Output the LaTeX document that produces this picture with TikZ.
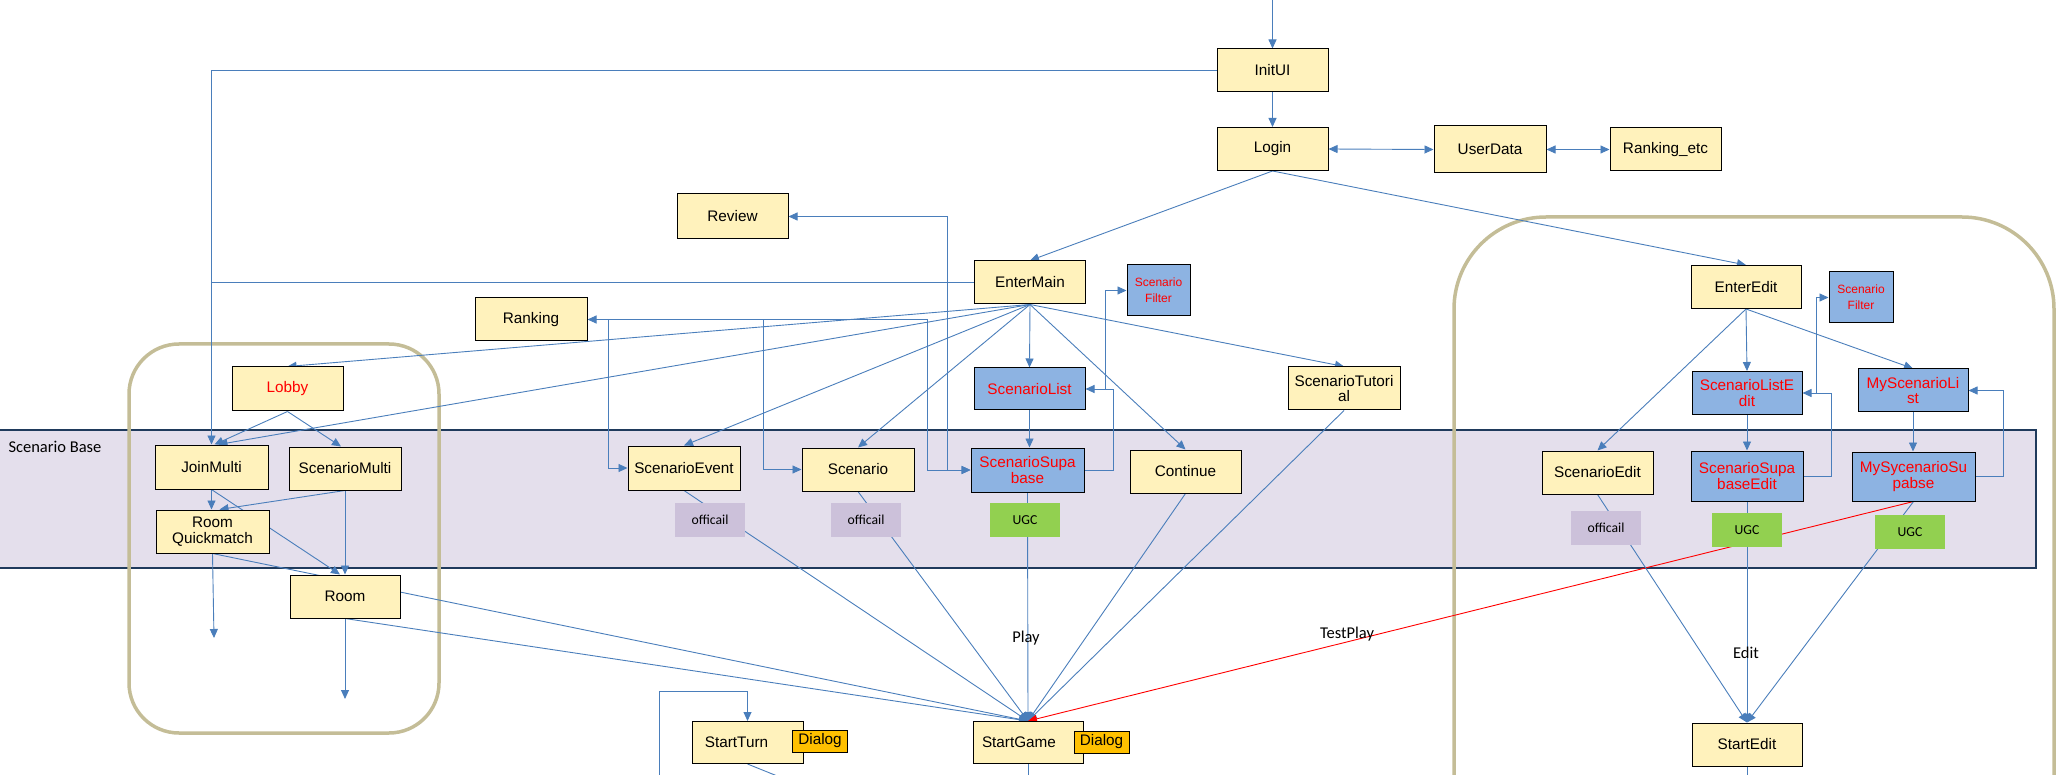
\documentclass[tikz,border=0pt]{standalone}
\usepackage{fontspec}
\setmainfont{Liberation Sans}
\newfontfamily\calib{Carlito}
\usetikzlibrary{arrows.meta}
\definecolor{yfill}{HTML}{FFF2BC}
\definecolor{bfill}{HTML}{8DB3E2}
\definecolor{ofill}{HTML}{CCC1DA}
\definecolor{gfill}{HTML}{92D050}
\definecolor{dfill}{HTML}{FFC000}
\definecolor{bandfill}{HTML}{E4DFEC}
\definecolor{bandline}{HTML}{1F3A5C}
\definecolor{tan}{HTML}{C4BD97}
\definecolor{lblue}{HTML}{4A7EBB}
\pgfdeclarelayer{bg}
\pgfdeclarelayer{lines}
\pgfsetlayers{bg,lines,main}
\tikzset{
 ybox/.style={draw=black, line width=1pt, fill=yfill, minimum width=111pt, minimum height=43pt, inner sep=0pt, align=center, font=\fontsize{15.3}{15.5}\selectfont},
 bbox/.style={ybox, fill=bfill, text=red},
 fbox/.style={ybox, fill=bfill, text=red, minimum width=63pt, minimum height=51pt, font=\fontsize{12}{16}\selectfont},
 tagbox/.style={minimum width=70pt, minimum height=34pt, inner sep=0pt, font=\calib\fontsize{13.7}{14}\selectfont},
 offi/.style={tagbox, fill=ofill},
 ugc/.style={tagbox, fill=gfill},
 dlg/.style={draw=black, line width=1pt, fill=dfill, minimum width=55pt, minimum height=22pt, inner sep=0pt, font=\fontsize{15.3}{15}\selectfont},
 ln/.style={draw=lblue, line width=0.9pt},
 arr/.style={ln, -{Triangle[length=9pt,width=8pt]}},
 arrb/.style={ln, {Triangle[length=9pt,width=8pt]}-{Triangle[length=9pt,width=8pt]}},
 arrR/.style={draw=red, line width=0.9pt, -{Triangle[length=9pt,width=8pt]}},
 lbl/.style={font=\calib\fontsize{16.5}{17}\selectfont},
 tanbox/.style={draw=tan, line width=3.5pt}
}
\begin{document}
\begin{tikzpicture}[x=1pt,y=-1pt]
\useasboundingbox (0,0) rectangle (2059,775);
% nodes
\node[ybox] (IU) at (1272.5,70.5) {InitUI};
\node[ybox] (LG) at (1272.5,149) {Login};
\node[ybox, minimum height=47pt, minimum width=112pt] (UD) at (1490,149.5) {UserData};
\node[ybox] (RE) at (1665.5,149.5) {Ranking\_etc};
\node[ybox, minimum height=45pt] (RV) at (732.5,216.5) {Review};
\node[ybox] (EM) at (1030,282.5) {EnterMain};
\node[fbox] (SF) at (1158.5,290.5) {Scenario\\Filter};
\node[ybox, minimum width=112pt] (RK) at (531,319.5) {Ranking};
\node[ybox, minimum height=44pt, text=red] (LB) at (287.5,389) {Lobby};
\node[bbox, minimum height=42pt] (SL) at (1029.5,389) {ScenarioList};
\node[ybox, minimum width=112pt] (ST) at (1344,388.5) {ScenarioTutori\\al};
\node[ybox, minimum width=110pt] (EE) at (1746,287) {EnterEdit};
\node[fbox, minimum width=64pt] (SF2) at (1861,297.5) {Scenario\\Filter};
\node[bbox, minimum width=110pt] (SLE) at (1747,393) {ScenarioListE\\dit};
\node[bbox, minimum width=110pt] (MSL) at (1913,390.5) {MyScenarioLi\\st};
\node[ybox, minimum width=113pt, minimum height=44pt] (JM) at (211.5,467) {JoinMulti};
\node[ybox, minimum width=112pt] (SM) at (345,468.5) {ScenarioMulti};
\node[ybox, minimum width=113pt] (RQ) at (212.5,531.5) {Room\\Quickmatch};
\node[ybox, minimum width=110pt] (RM) at (345,596.5) {Room};
\node[ybox, minimum width=112pt, minimum height=44pt] (SE) at (684,468) {ScenarioEvent};
\node[ybox, minimum width=112pt] (SC) at (858,469.5) {Scenario};
\node[bbox, minimum width=113pt, minimum height=44pt] (SSB) at (1027.5,470) {ScenarioSupa\\base};
\node[ybox] (CT) at (1185.5,471.5) {Continue};
\node[ybox] (SEd) at (1597.5,472.5) {ScenarioEdit};
\node[bbox, minimum width=112pt, minimum height=50pt] (SSE) at (1747,476) {ScenarioSupa\\baseEdit};
\node[bbox, minimum width=123pt, minimum height=49pt] (MSSB) at (1913.5,476.5) {MySycenarioSu\\pabse};
\node[offi] (OF1) at (710,520) {officail};
\node[offi] (OF2) at (866,520) {officail};
\node[ugc] (UG1) at (1025,520) {UGC};
\node[offi] (OF3) at (1606,528) {officail};
\node[ugc] (UG2) at (1747,530) {UGC};
\node[ugc] (UG3) at (1910,532) {UGC};
\node[ybox, minimum height=42pt] (STn) at (747.5,742.5) {StartTurn\hspace*{22pt}};
\node[dlg] (DT1) at (820,741) {Dialog};
\node[ybox, minimum width=110pt, minimum height=42pt] (SG) at (1028,742.5) {StartGame\hspace*{18pt}};
\node[dlg] (DT2) at (1101.5,742) {Dialog};
\node[ybox, minimum width=110pt] (StE) at (1747,744.5) {StartEdit};
\node[lbl] (play) at (1026,638) {Play};
\node[lbl] (tplay) at (1347,634) {TestPlay};
\node[lbl] (edit) at (1746,653) {Edit};
\node[lbl, anchor=west] (sbase) at (5,447) {Scenario Base};
% free ends
\coordinate (top) at (1272.5,0);
\coordinate (r1) at (608,319.5);
\coordinate (r2) at (763,319.5);
\coordinate (d1) at (214,638);
\coordinate (d2) at (345,699);
\coordinate (lp) at (659,790);
\coordinate (lt) at (659,691);
\coordinate (sb) at (812,790);
\coordinate (sgb) at (1028,790);
\coordinate (steb) at (1747,790);
\begin{pgfonlayer}{bg}
\fill[bandfill] (-10,430) rectangle (2036,568);
\draw[bandline, line width=2.6pt] (-10,430) rectangle (2036,568);
\draw[tanbox, rounded corners=50pt] (129,344) rectangle (439,733);
\draw[tanbox, rounded corners=92pt] (1454,217) rectangle (2054,900);
\end{pgfonlayer}
\begin{pgfonlayer}{lines}
\draw[arr] (top) -- (IU.north);
\draw[arr] (IU.south) -- (LG.north);
\draw[arr] (IU.west) -| (JM.north);
\draw[ln] (EM.west) -- (EM.west -| JM.north);
\draw[arrb] (LG.east) -- (UD.west);
\draw[arrb] (UD.east) -- (RE.west);
\draw[arr] (LG.south) -- (EM.north);
\draw[arr] (LG.south) -- (EE.north);
\draw[arr] (EM.south) -- (LB.north);
\draw[arr] (EM.south) -- ([xshift=7pt]JM.north);
\draw[arr] (EM.south) -- (SE.north);
\draw[arr] (EM.south) -- (SC.north);
\draw[arr] (EM.south) -- (SL.north);
\draw[arr] (EM.south) -- (CT.north);
\draw[arr] (EM.south) -- (ST.north);
\draw[arrb] (RK.east) -| ([xshift=-43pt]SSB.west) -- (SSB.west);
\draw[arrb] (RV.east) -| ([xshift=-23pt]SSB.west) -- (SSB.west);
\draw[arr] (r1) |- (SE.west);
\draw[arr] (r2) |- (SC.west);
\draw[arr] (SL.south) -- (SL.south |- SSB.north);
\draw[arr] (SSB.east) -- ++(28.5,0) |- (SL.east);
\draw[arr] ([xshift=20pt]SL.east) |- (SF.west);
\draw[arr] (EE.south) -- (SLE.north);
\draw[arr] (EE.south) -- (SEd.north);
\draw[arr] (EE.south) -- (MSL.north);
\draw[arr] (SLE.south) -- (SLE.south |- SSE.north);
\draw[arr] (MSL.south) -- (MSL.south |- MSSB.north);
\draw[arr] (SSE.east) -- ++(28,0) |- (SLE.east);
\draw[arr] ([xshift=14pt]SLE.east) |- (SF2.west);
\draw[arr] (MSSB.east) -- ++(28,0) |- (MSL.east);
\draw[arr] (LB.south) -- ([xshift=3pt]JM.north);
\draw[arr] (LB.south) -- ([xshift=-4pt]SM.north);
\draw[arr] (JM.south) -- (JM.south |- RQ.north);
\draw[arr] (SM.south) -- ([xshift=7pt]RQ.north);
\draw[arr] (SM.south) -- (RM.north);
\draw[arr] (JM.south) -- ([xshift=-5pt]RM.north);
\draw[arr] (RQ.south) -- (d1);
\draw[arr] (RM.south) -- (d2);
\foreach \s in {RQ,RM,SE,SC,SSB,CT,ST} \draw[arr] (\s.south) -- (SG.north);
\draw[arrR] (MSSB.south) -- (SG.north);
\foreach \s in {SEd,SSE,MSSB} \draw[arr] (\s.south) -- (StE.north);
\draw[arr] (lp) -- (lt) -| (STn.north);
\draw[ln] (STn.south) -- (sb);
\draw[ln] (SG.south) -- (sgb);
\draw[ln] (StE.south) -- (steb);
\end{pgfonlayer}
\end{tikzpicture}
\end{document}
